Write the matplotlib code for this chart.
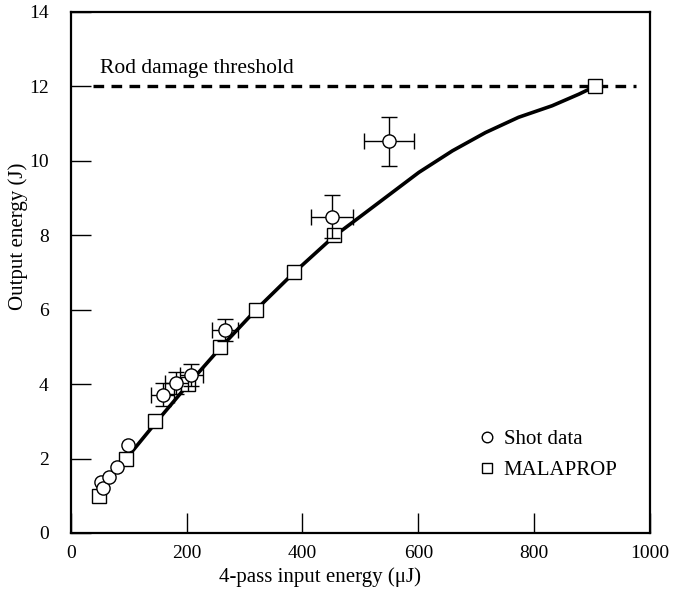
import numpy as np
import matplotlib
matplotlib.use('Agg')
import matplotlib.pyplot as plt

"""Amplifier output energy vs 4-pass input energy: shot data and MALAPROP model."""

# shot data (input uJ, output J) with error bars (0 = no bar drawn)
shot_x = [53, 56, 66, 80, 99, 159, 182, 208, 266, 451, 550]
shot_y = [1.38, 1.20, 1.50, 1.77, 2.36, 3.72, 4.03, 4.25, 5.45, 8.50, 10.52]
shot_xerr = [0, 0, 0, 0, 0, 20, 20, 20, 22, 37, 43]
shot_yerr = [0, 0, 0, 0, 0, 0.30, 0.30, 0.30, 0.30, 0.57, 0.67]

# MALAPROP model points
model_x = [48, 96, 146, 202, 258, 320, 385, 455, 905]
model_y = [1, 2, 3, 4, 5, 6, 7, 8, 12]

# model curve
curve_x = [96, 146, 202, 258, 320, 385, 455, 486, 601, 659, 716, 773, 831, 877, 905]
curve_y = [2, 2.95, 3.98, 4.97, 6.0, 6.99, 7.98, 8.34, 9.69, 10.27, 10.76, 11.17, 11.48, 11.79, 12.0]

threshold = 12
threshold_span = [38, 975]

xticks = [0, 200, 400, 600, 800, 1000]
yticks = [0, 2, 4, 6, 8, 10, 12, 14]

plt.rcParams['font.family'] = ['Liberation Serif', 'DejaVu Serif']
plt.rcParams['font.size'] = 14

fig = plt.figure(figsize=(6.88, 5.93), dpi=100)
ax = fig.add_axes([0.1028, 0.1012, 0.842, 0.8786])

ax.plot(threshold_span, [threshold, threshold], 'k--', lw=2.4, dashes=(3.2, 2.2))
ax.text(50, 12.36, 'Rod damage threshold', ha='left', va='baseline', fontsize=15.5)

ax.plot(curve_x, curve_y, 'k-', lw=2.6, solid_capstyle='butt', zorder=2)
ax.plot(model_x, model_y, ls='none', marker='s', ms=9.5, mfc='white', mec='black', mew=1.0,
        zorder=3, label='MALAPROP')

# only shots with measured uncertainties get bars
sx, sy = np.array(shot_x), np.array(shot_y)
ex, ey = np.array(shot_xerr), np.array(shot_yerr)
m = (ex > 0) | (ey > 0)
ax.errorbar(sx[m], sy[m], xerr=ex[m], yerr=ey[m], fmt='none', ecolor='black',
            elinewidth=1.0, capsize=6, capthick=1.0, zorder=4)
ax.plot(shot_x, shot_y, ls='none', marker='o', ms=9.5, mfc='white', mec='black', mew=1.0,
        zorder=5, label='Shot data')

ax.set_xlim(0, 1000)
ax.set_ylim(0, 14)
ax.set_xticks(xticks)
ax.set_yticks(yticks)
ax.tick_params(direction='in', length=14.5, width=1.0, top=False, right=False)
ax.tick_params(axis='x', pad=9)
ax.tick_params(axis='y', pad=16)
for s in ax.spines.values():
    s.set_linewidth(1.6)

ax.set_xlabel('4-pass input energy (μJ)', fontsize=15)
ax.xaxis.set_label_coords(0.43, -0.066)
ax.set_ylabel('Output energy (J)', fontsize=15)
ax.yaxis.set_label_coords(-0.073, 0.57)

h, l = ax.get_legend_handles_labels()
ax.legend(h[::-1], l[::-1], loc='upper left', bbox_to_anchor=(0.672, 0.235), frameon=False,
          markerscale=0.8, handlelength=0.8, handletextpad=0.4, labelspacing=0.55, fontsize=15)

fig.savefig('out.png', dpi=100)
